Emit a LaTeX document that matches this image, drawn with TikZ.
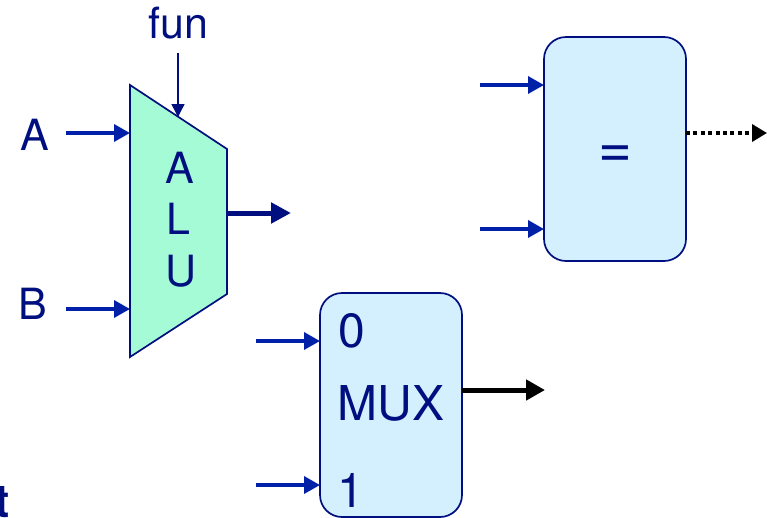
\documentclass[tikz,border=0pt]{standalone}
\usepackage{fontspec}
\setmainfont{TeX Gyre Heros}
\usetikzlibrary{arrows.meta}
\definecolor{inknavy}{HTML}{000F7F}
\definecolor{wireblue}{HTML}{0020A8}
\definecolor{alufill}{HTML}{A6FBD7}
\definecolor{boxfill}{HTML}{D4F0FF}
\newcommand{\fs}[1]{\fontsize{#1pt}{#1pt}\selectfont}
\tikzset{
  x=1pt,y=-1pt,
  lbl/.style={inner sep=0pt,outer sep=0pt,anchor=base,text=inknavy},
  big/.style={lbl,font=\fs{43}},
  bigger/.style={lbl,font=\fs{48}},
  blockbox/.style={draw=inknavy,line width=1.7pt,fill=boxfill,rounded corners=22pt,minimum width=142pt,minimum height=224pt,inner sep=0pt,outer sep=0pt},
  inarrow/.style={draw=wireblue,line width=3.5pt,-{Triangle[length=16pt,width=17pt]}},
  thinarrow/.style={draw=inknavy,line width=1.5pt,-{Triangle[length=13pt,width=13pt]}},
  navyout/.style={draw=inknavy,line width=5pt,-{Triangle[length=20pt,width=20pt]}},
  blackout/.style={draw=black,line width=5pt,-{Triangle[length=19pt,width=20pt]}},
  dotout/.style={draw=black,line width=3.5pt,dash pattern=on 4pt off 3.4pt,-{Triangle[length=15pt,width=17pt]}},
}
\begin{document}
\begin{tikzpicture}
\clip (0,0) rectangle (767,517);
\fill[white] (0,0) rectangle (767,517);
% ALU
\coordinate (alutl) at (130,85);
\coordinate (alutr) at (227,149);
\coordinate (alubr) at (227,294);
\coordinate (alubl) at (130,357);
\filldraw[draw=inknavy,line width=1.7pt,fill=alufill,line join=miter] (alutl) -- (alutr) -- (alubr) -- (alubl) -- cycle;
\node[big] (aluA) at (180,183) {A};
\node[big] (aluL) at (178,234.5) {L};
\node[big] (aluU) at (181.5,286) {U};
% boxes
\node[blockbox] (eqbox) at (615,149) {};
\node[blockbox] (muxbox) at (391,405) {};
\node[lbl,font=\fs{58}] (eqsign) at (615,167.5) {=};
\node[bigger] (mux0) at (352,347) {0};
\node[bigger] (muxname) at (391,420.7) {MUX};
\node[bigger] (mux1) at (351,507) {1};
% labels
\node[big] (labA) at (34.5,150.7) {A};
\node[big] (labB) at (33,319) {B};
\node[big] (labfun) at (178.5,38.5) {fun};
\node[lbl,font=\bfseries\fs{46},anchor=base west] (labt) at (-5.5,517) {t};
% free ends
\coordinate (inA) at (66,133);
\coordinate (inB) at (66,309);
\coordinate (infun) at (178,53);
\coordinate (funend) at (178,117);
\coordinate (aluoutend) at (291,213);
\coordinate (muxoutend) at (545,390);
\coordinate (eqoutend) at (767,133);
\coordinate (eqin1) at (480,85);
\coordinate (eqin2) at (480,229);
\coordinate (muxin0) at (256,341);
\coordinate (muxin1) at (256,485);
% connectors
\draw[inarrow] (inA) -- (inA -| alutl);
\draw[inarrow] (inB) -- (inB -| alutl);
\draw[thinarrow] (infun) -- (funend);
\draw[navyout] (aluoutend -| alutr) -- (aluoutend);
\draw[inarrow] (eqin1) -- (eqin1 -| eqbox.west);
\draw[inarrow] (eqin2) -- (eqin2 -| eqbox.west);
\draw[inarrow] (muxin0) -- (muxin0 -| muxbox.west);
\draw[inarrow] (muxin1) -- (muxin1 -| muxbox.west);
\draw[blackout] (muxoutend -| muxbox.east) -- (muxoutend);
\draw[dotout] (eqoutend -| eqbox.east) -- (eqoutend);
\end{tikzpicture}
\end{document}
